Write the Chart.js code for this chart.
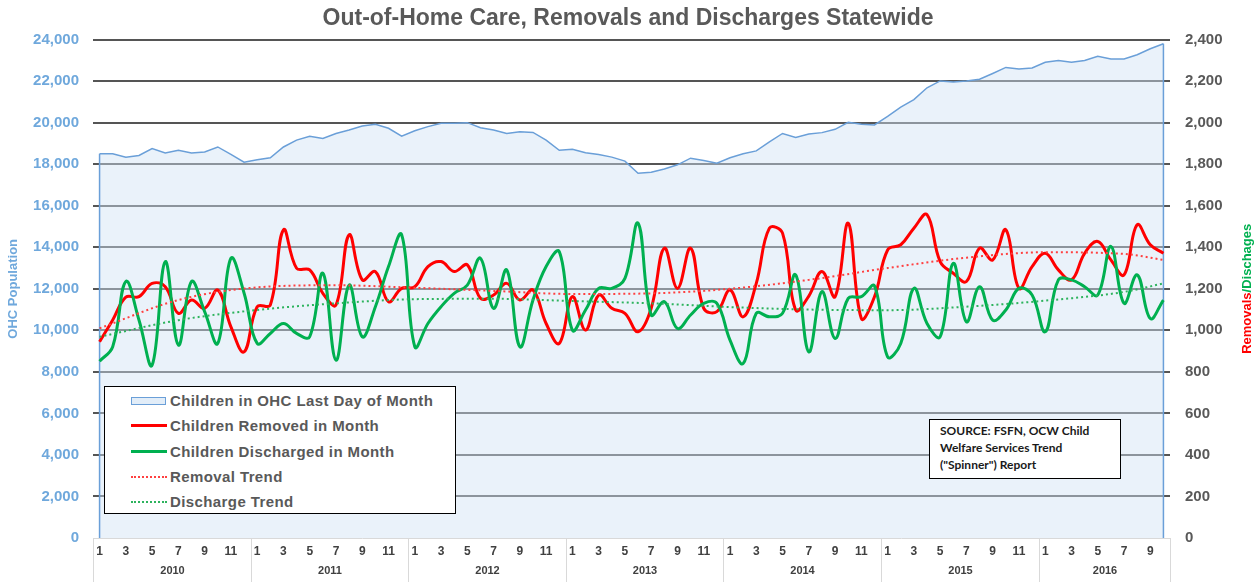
<!DOCTYPE html>
<html>
<head>
<meta charset="utf-8">
<title>Out-of-Home Care, Removals and Discharges Statewide</title>
<script src="https://cdn.jsdelivr.net/npm/chart.js@4.4.1/dist/chart.umd.min.js"></script>
<style>
    html, body { margin: 0; padding: 0; background: #fff; }
    #wrap { position: relative; width: 1256px; height: 582px; overflow: hidden; }
    #legend {
        position: absolute; left: 104px; top: 386px; width: 350px; height: 126px;
        background: #fff; border: 1.5px solid #000;
        font: bold 15px "Liberation Sans", Arial, sans-serif; letter-spacing: 0.4px; color: #595959;
    }
    #legend .item { position: absolute; left: 0; height: 18px; line-height: 18px; white-space: nowrap; }
    #legend .sym { position: absolute; left: 26px; width: 36px; }
    #legend .txt { position: absolute; left: 65px; top: 0; }
    #source {
        position: absolute; left: 929px; top: 419px; width: 180px; height: 56px;
        background: #fff; border: 1.5px solid #000; padding: 2px 0 0 10px;
        font: bold 12px Lato, "Open Sans", sans-serif; line-height: 17px; color: #1a1a1a;
    }
</style>
</head>
<body>
<div id="wrap">
    <canvas id="chart" width="1256" height="582"></canvas>
    <div id="legend"></div>
    <div id="source">SOURCE: FSFN, OCW Child<br>Welfare Services Trend<br>("Spinner") Report</div>
</div>
<script>
// Datos (ene 2010 - oct 2016)
var years = ['2010', '2011', '2012', '2013', '2014', '2015', '2016'];
var monthsPerYear = [12, 12, 12, 12, 12, 12, 10];

var ohcPopulation = [
    18505, 18505, 18340, 18420, 18750, 18540, 18670, 18540, 18590, 18830, 18470, 18100,
    18210, 18310, 18830, 19160, 19350, 19240, 19480, 19650, 19840, 19920, 19730, 19350,
    19610, 19810, 19970, 19970, 20000, 19760, 19650, 19480, 19560, 19530, 19160, 18670,
    18720, 18550, 18470, 18340, 18150, 17560, 17610, 17770, 17970, 18290, 18180, 18050,
    18310, 18500, 18640, 19080, 19480, 19290, 19450, 19520, 19680, 20020, 19920, 19890,
    20300, 20750, 21110, 21680, 22010, 21960, 22010, 22090, 22370, 22660, 22580, 22630,
    22910, 22990, 22910, 22990, 23200, 23070, 23070, 23270, 23560, 23800
];

var removed = [
    945, 1050, 1160, 1162, 1226, 1210, 1082, 1146, 1106, 1194, 1017, 896,
    1114, 1122, 1484, 1299, 1291, 1178, 1122, 1460, 1243, 1283, 1138, 1202,
    1210, 1307, 1331, 1283, 1315, 1154, 1170, 1226, 1146, 1194, 1033, 937,
    1162, 1001, 1170, 1106, 1082, 993, 1106, 1396, 1202, 1396, 1106, 1090,
    1194, 1065, 1226, 1492, 1468, 1098, 1165, 1283, 1162, 1516, 1057, 1162,
    1387, 1412, 1492, 1557, 1331, 1275, 1235, 1396, 1339, 1484, 1202, 1307,
    1371, 1291, 1243, 1371, 1428, 1339, 1267, 1508, 1412, 1371
];

var discharged = [
    851, 921, 1235, 1050, 832, 1331, 929, 1235, 1090, 937, 1347, 1180,
    937, 985, 1033, 985, 969, 1275, 856, 1218, 969, 1114, 1307, 1460,
    921, 1033, 1114, 1178, 1218, 1347, 1106, 1291, 921, 1146, 1307, 1379,
    1001, 1098, 1202, 1202, 1250, 1516, 1074, 1138, 1009, 1074, 1130, 1130,
    953, 840, 1082, 1065, 1082, 1267, 896, 1186, 961, 1154, 1162, 1214,
    872, 937, 1202, 1033, 969, 1323, 1041, 1210, 1049, 1098, 1202, 1170,
    993, 1243, 1243, 1210, 1170, 1404, 1130, 1267, 1057, 1146
];

// Lineas de tendencia: valores leidos cada 6 meses
var trendIndex = [0, 6, 12, 18, 24, 30, 36, 42, 48, 54, 60, 66, 72, 78, 81];
var removalTrend = [1010, 1146, 1207, 1217, 1205, 1190, 1175, 1178, 1200, 1243, 1300, 1350, 1376, 1368, 1339];
var dischargeTrend = [969, 1049, 1098, 1130, 1150, 1152, 1141, 1130, 1112, 1100, 1097, 1114, 1143, 1185, 1226];

var leftTicks = { min: 0, max: 24000, step: 2000 };
var rightTicks = { min: 0, max: 2400, step: 200 };

// Etiquetas de mes y año de cada punto
var monthLabels = [];
var yearOfPoint = [];
years.forEach(function (y, i) {
    for (var m = 1; m <= monthsPerYear[i]; m++) {
        monthLabels.push(String(m));
        yearOfPoint.push(y);
    }
});

function sparseSeries(idx, vals) {
    var out = monthLabels.map(function () { return null; });
    idx.forEach(function (k, j) { out[k] = vals[j]; });
    return out;
}

var fontFamily = '"Liberation Sans", Arial, sans-serif';
var ohcColor = '#6a9fd8';

// Plugin: bordes laterales del area, filas de años y titulo derecho bicolor
var decorPlugin = {
    id: 'decor',
    afterDatasetDraw: function (chart, args) {
        if (args.index !== 0) return;
        var pts = args.meta.data;
        var ctx = chart.ctx;
        var base = chart.scales.y.getPixelForValue(0);
        ctx.save();
        ctx.strokeStyle = ohcColor;
        ctx.lineWidth = 1.5;
        ctx.beginPath();
        ctx.moveTo(pts[0].x, pts[0].y);
        ctx.lineTo(pts[0].x, base);
        ctx.moveTo(pts[pts.length - 1].x, pts[pts.length - 1].y);
        ctx.lineTo(pts[pts.length - 1].x, base);
        ctx.stroke();
        ctx.restore();
    },
    afterDraw: function (chart) {
        var ctx = chart.ctx;
        var x = chart.scales.x;
        var half = (x.getPixelForValue(1) - x.getPixelForValue(0)) / 2;
        var top = x.top + 1;
        ctx.save();
        ctx.strokeStyle = '#d9d9d9';
        ctx.lineWidth = 1;
        ctx.fillStyle = '#404040';
        ctx.font = 'bold 11px ' + fontFamily;
        ctx.textAlign = 'center';
        ctx.textBaseline = 'middle';
        var start = 0;
        years.forEach(function (y, i) {
            var end = start + monthsPerYear[i] - 1;
            var x0 = Math.round(x.getPixelForValue(start) - half) + 0.5;
            var x1 = Math.round(x.getPixelForValue(end) + half) + 0.5;
            ctx.beginPath();
            ctx.moveTo(x0, top);
            ctx.lineTo(x0, chart.height);
            ctx.moveTo(x1, top);
            ctx.lineTo(x1, chart.height);
            ctx.stroke();
            ctx.fillText(y, (x0 + x1) / 2, 571);
            start = end + 1;
        });

        // Titulo del eje derecho en dos colores
        var a = 'Removals', b = '/Dischages';
        ctx.font = 'bold 13px ' + fontFamily;
        var wa = ctx.measureText(a).width;
        var w = wa + ctx.measureText(b).width;
        var cy = (chart.chartArea.top + chart.chartArea.bottom) / 2;
        ctx.translate(1247, cy);
        ctx.rotate(-Math.PI / 2);
        ctx.textAlign = 'left';
        ctx.fillStyle = '#ff0000';
        ctx.fillText(a, -w / 2, 0);
        ctx.fillStyle = '#00b050';
        ctx.fillText(b, -w / 2 + wa, 0);
        ctx.restore();
    }
};

var ctx = document.getElementById('chart').getContext('2d');
var chart = new Chart(ctx, {
    type: 'line',
    data: {
        labels: monthLabels,
        datasets: [
            {
                label: 'Children in OHC Last Day of Month',
                data: ohcPopulation,
                yAxisID: 'y',
                fill: 'origin',
                backgroundColor: 'rgba(208,226,244,0.45)',
                borderColor: ohcColor,
                borderWidth: 1.5,
                tension: 0,
                order: 10
            },
            {
                label: 'Children Removed in Month',
                data: removed,
                yAxisID: 'y1',
                borderColor: '#ff0000',
                borderWidth: 3,
                tension: 0.4,
                order: 4
            },
            {
                label: 'Children Discharged in Month',
                data: discharged,
                yAxisID: 'y1',
                borderColor: '#00b050',
                borderWidth: 3,
                tension: 0.4,
                order: 3
            },
            {
                label: 'Removal Trend',
                data: sparseSeries(trendIndex, removalTrend),
                yAxisID: 'y1',
                borderColor: '#ff4040',
                borderWidth: 2,
                borderDash: [2, 3],
                spanGaps: true,
                cubicInterpolationMode: 'monotone',
                order: 2
            },
            {
                label: 'Discharge Trend',
                data: sparseSeries(trendIndex, dischargeTrend),
                yAxisID: 'y1',
                borderColor: '#2db35d',
                borderWidth: 2,
                borderDash: [2, 3],
                spanGaps: true,
                cubicInterpolationMode: 'monotone',
                order: 1
            }
        ]
    },
    options: {
        responsive: false,
        animation: false,
        devicePixelRatio: 1,
        elements: { point: { radius: 0, hoverRadius: 0 } },
        layout: { padding: 0 },
        plugins: {
            legend: { display: false },
            tooltip: { enabled: false },
            title: {
                display: true,
                text: 'Out-of-Home Care, Removals and Discharges Statewide',
                color: '#595959',
                font: { family: fontFamily, size: 23, weight: 'bold' },
                padding: { top: 5, bottom: 7 }
            }
        },
        scales: {
            x: {
                type: 'category',
                offset: true,
                grid: { display: false, drawTicks: false },
                border: { display: true, color: '#d9d9d9', width: 1 },
                ticks: {
                    autoSkip: false,
                    maxRotation: 0,
                    padding: 6,
                    color: '#404040',
                    font: { family: fontFamily, size: 12, weight: 'bold' },
                    callback: function (value, index) {
                        var m = parseInt(monthLabels[index], 10);
                        return m % 2 === 1 ? String(m) : '';
                    }
                },
                afterFit: function (scale) { scale.height = 44; }
            },
            y: {
                position: 'left',
                min: leftTicks.min,
                max: leftTicks.max,
                border: { display: false },
                grid: {
                    drawTicks: false,
                    lineWidth: 2,
                    color: function (c) { return c.tick && c.tick.value === 0 ? 'rgba(0,0,0,0)' : '#555555'; }
                },
                ticks: {
                    stepSize: leftTicks.step,
                    padding: 14,
                    color: '#6fa8dc',
                    font: { family: fontFamily, size: 15, weight: 'bold' },
                    callback: function (v) { return v.toLocaleString('en-US'); }
                },
                title: {
                    display: true,
                    text: 'OHC Population',
                    color: '#6fa8dc',
                    font: { family: fontFamily, size: 13, weight: 'bold' },
                    padding: { top: 6, bottom: 0 }
                },
                afterFit: function (scale) { scale.width = 93; }
            },
            y1: {
                position: 'right',
                min: rightTicks.min,
                max: rightTicks.max,
                border: { display: false },
                grid: { display: false, drawTicks: false },
                ticks: {
                    stepSize: rightTicks.step,
                    padding: 15,
                    color: '#595959',
                    font: { family: fontFamily, size: 15, weight: 'bold' },
                    callback: function (v) { return v.toLocaleString('en-US'); }
                },
                afterFit: function (scale) { scale.width = 86; }
            }
        }
    },
    plugins: [decorPlugin]
});

// Leyenda HTML dentro del grafico, generada desde los datasets
var legendEl = document.getElementById('legend');
chart.data.datasets.forEach(function (ds, i) {
    var item = document.createElement('div');
    item.className = 'item';
    item.style.top = (5 + i * 25.3) + 'px';
    item.style.width = '100%';

    var sym = document.createElement('div');
    sym.className = 'sym';
    if (ds.fill) {
        sym.style.top = '5px';
        sym.style.height = '6px';
        sym.style.border = '1.5px solid ' + ds.borderColor;
        sym.style.width = '33px';
        sym.style.background = 'rgb(226,237,248)';
    } else if (ds.borderDash) {
        sym.style.top = '8px';
        sym.style.borderTop = '2px dotted ' + ds.borderColor;
    } else {
        sym.style.top = '7px';
        sym.style.borderTop = '3px solid ' + ds.borderColor;
    }

    var txt = document.createElement('span');
    txt.className = 'txt';
    txt.textContent = ds.label;

    item.appendChild(sym);
    item.appendChild(txt);
    legendEl.appendChild(item);
});
</script>
</body>
</html>
